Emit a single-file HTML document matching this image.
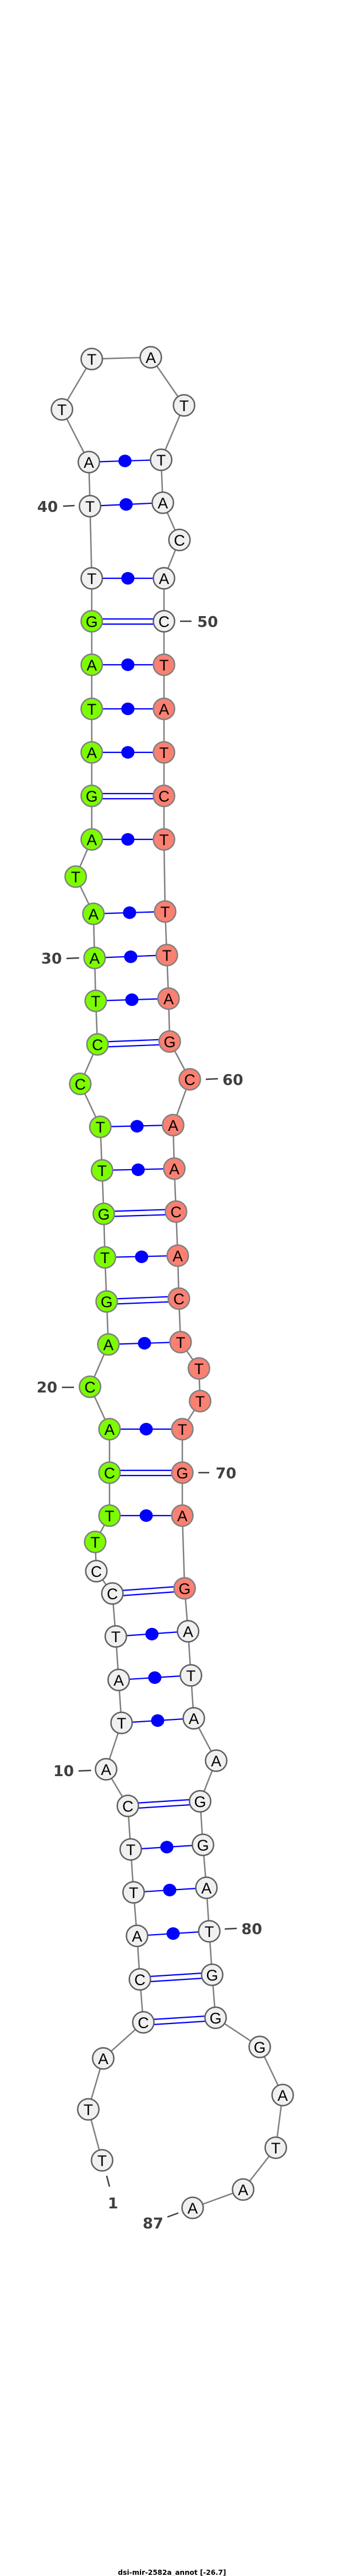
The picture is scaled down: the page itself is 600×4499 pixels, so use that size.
<!DOCTYPE html>
<html><head><meta charset="utf-8"><style>
html,body{margin:0;padding:0;background:#fff;}
svg{display:block;}
.n text{font-family:"Liberation Sans",sans-serif;font-size:27px;text-anchor:middle;fill:#000;}
.lb{font-family:"DejaVu Sans","Liberation Sans",sans-serif;font-weight:bold;font-size:26px;fill:#404040;}
</style></head><body>
<svg width="600" height="4499" viewBox="0 0 600 4499" xmlns="http://www.w3.org/2000/svg">
<rect width="600" height="4499" fill="#fff"/>
<polyline fill="none" stroke="#808080" stroke-width="2.5" points="178,3773 154,3684 180,3595 250,3532 244,3457 239,3381 233,3305 228,3230 223,3154 185,3090 212,3009 207,2934 202,2858 196,2783 168,2744 166,2693 191,2647 191,2572 191,2496 157,2422 189,2348 186,2273 183,2196 181,2120 178,2044 175,1968 140,1893 170,1824 167,1748 165,1673 163,1596 132,1531 160,1466 160,1390 160,1314 160,1238 160,1161 160,1085 160,1010 157,884 155,807 108,715 160,627 263,624 321,708 281,803 284,878 313,943 286,1010 286,1085 286,1161 286,1238 286,1314 286,1390 286,1466 288,1592 291,1668 294,1744 296,1819 331,1885 302,1965 304,2041 307,2116 310,2193 312,2268 315,2344 347,2390 349,2447 318,2496 318,2572 318,2647 322,2774 328,2849 333,2926 338,3001 377,3075 349,3146 354,3222 360,3297 365,3373 370,3449 376,3524 453,3575 493,3659 481,3751 424,3824 336,3856"/>
<g stroke="#0000ff" stroke-width="2.2" fill="none">
<!-- single pairs -->
<line x1="239" y1="3381" x2="365" y2="3373"/>
<line x1="233" y1="3305" x2="360" y2="3297"/>
<line x1="228" y1="3230" x2="354" y2="3222"/>
<line x1="212" y1="3009" x2="338" y2="3001"/>
<line x1="207" y1="2934" x2="333" y2="2926"/>
<line x1="202" y1="2858" x2="328" y2="2849"/>
<line x1="191" y1="2647" x2="318" y2="2647"/>
<line x1="191" y1="2496" x2="318" y2="2496"/>
<line x1="189" y1="2348" x2="315" y2="2344"/>
<line x1="183" y1="2196" x2="310" y2="2193"/>
<line x1="178" y1="2044" x2="304" y2="2041"/>
<line x1="175" y1="1968" x2="302" y2="1965"/>
<line x1="167" y1="1748" x2="294" y2="1744"/>
<line x1="165" y1="1673" x2="291" y2="1668"/>
<line x1="163" y1="1596" x2="288" y2="1592"/>
<line x1="160" y1="1466" x2="286" y2="1466"/>
<line x1="160" y1="1314" x2="286" y2="1314"/>
<line x1="160" y1="1238" x2="286" y2="1238"/>
<line x1="160" y1="1161" x2="286" y2="1161"/>
<line x1="160" y1="1010" x2="286" y2="1010"/>
<line x1="157" y1="884" x2="284" y2="878"/>
<line x1="155" y1="807" x2="281" y2="803"/>
<!-- double pairs -->
<line x1="250" y1="3528" x2="376" y2="3520"/><line x1="250" y1="3537" x2="376" y2="3529"/>
<line x1="244" y1="3453" x2="370" y2="3445"/><line x1="244" y1="3462" x2="370" y2="3454"/>
<line x1="223" y1="3150" x2="349" y2="3142"/><line x1="223" y1="3159" x2="349" y2="3151"/>
<line x1="196" y1="2779" x2="322" y2="2770"/><line x1="196" y1="2788" x2="322" y2="2779"/>
<line x1="191" y1="2568" x2="318" y2="2568"/><line x1="191" y1="2577" x2="318" y2="2577"/>
<line x1="186" y1="2269" x2="312" y2="2264"/><line x1="186" y1="2278" x2="312" y2="2273"/>
<line x1="181" y1="2116" x2="307" y2="2112"/><line x1="181" y1="2125" x2="307" y2="2121"/>
<line x1="170" y1="1820" x2="296" y2="1815"/><line x1="170" y1="1829" x2="296" y2="1824"/>
<line x1="160" y1="1386" x2="286" y2="1386"/><line x1="160" y1="1395" x2="286" y2="1395"/>
<line x1="160" y1="1081" x2="286" y2="1081"/><line x1="160" y1="1090" x2="286" y2="1090"/>
</g>
<g fill="#0000ff">
<ellipse cx="302" cy="3377" rx="11.5" ry="11"/>
<ellipse cx="296" cy="3301" rx="11.5" ry="11"/>
<ellipse cx="291" cy="3226" rx="11.5" ry="11"/>
<ellipse cx="275" cy="3005" rx="11.5" ry="11"/>
<ellipse cx="270" cy="2930" rx="11.5" ry="11"/>
<ellipse cx="265" cy="2854" rx="11.5" ry="11"/>
<ellipse cx="255" cy="2647" rx="11.5" ry="11"/>
<ellipse cx="255" cy="2496" rx="11.5" ry="11"/>
<ellipse cx="252" cy="2346" rx="11.5" ry="11"/>
<ellipse cx="247" cy="2195" rx="11.5" ry="11"/>
<ellipse cx="241" cy="2043" rx="11.5" ry="11"/>
<ellipse cx="239" cy="1967" rx="11.5" ry="11"/>
<ellipse cx="230" cy="1746" rx="11.5" ry="11"/>
<ellipse cx="228" cy="1671" rx="11.5" ry="11"/>
<ellipse cx="226" cy="1594" rx="11.5" ry="11"/>
<ellipse cx="223" cy="1466" rx="11.5" ry="11"/>
<ellipse cx="223" cy="1314" rx="11.5" ry="11"/>
<ellipse cx="223" cy="1238" rx="11.5" ry="11"/>
<ellipse cx="223" cy="1161" rx="11.5" ry="11"/>
<ellipse cx="223" cy="1010" rx="11.5" ry="11"/>
<ellipse cx="220" cy="881" rx="11.5" ry="11"/>
<ellipse cx="218" cy="805" rx="11.5" ry="11"/>
</g>
<!-- nodes -->
<g class="n" stroke-width="2.5">
<g stroke="#606060" fill="#f0f0f0">
<circle cx="178" cy="3773" r="18.5"/><circle cx="154" cy="3684" r="18.5"/><circle cx="180" cy="3595" r="18.5"/><circle cx="250" cy="3532" r="18.5"/><circle cx="244" cy="3457" r="18.5"/><circle cx="239" cy="3381" r="18.5"/><circle cx="233" cy="3305" r="18.5"/><circle cx="228" cy="3230" r="18.5"/><circle cx="223" cy="3154" r="18.5"/><circle cx="185" cy="3090" r="18.5"/><circle cx="212" cy="3009" r="18.5"/><circle cx="207" cy="2934" r="18.5"/><circle cx="202" cy="2858" r="18.5"/><circle cx="196" cy="2783" r="18.5"/><circle cx="168" cy="2744" r="18.5"/>
<circle cx="160" cy="1010" r="18.5"/><circle cx="157" cy="884" r="18.5"/><circle cx="155" cy="807" r="18.5"/><circle cx="108" cy="715" r="18.5"/><circle cx="160" cy="627" r="18.5"/><circle cx="263" cy="624" r="18.5"/><circle cx="321" cy="708" r="18.5"/><circle cx="281" cy="803" r="18.5"/><circle cx="284" cy="878" r="18.5"/><circle cx="313" cy="943" r="18.5"/><circle cx="286" cy="1010" r="18.5"/><circle cx="286" cy="1085" r="18.5"/>
<circle cx="328" cy="2849" r="18.5"/><circle cx="333" cy="2926" r="18.5"/><circle cx="338" cy="3001" r="18.5"/><circle cx="377" cy="3075" r="18.5"/><circle cx="349" cy="3146" r="18.5"/><circle cx="354" cy="3222" r="18.5"/><circle cx="360" cy="3297" r="18.5"/><circle cx="365" cy="3373" r="18.5"/><circle cx="370" cy="3449" r="18.5"/><circle cx="376" cy="3524" r="18.5"/><circle cx="453" cy="3575" r="18.5"/><circle cx="493" cy="3659" r="18.5"/><circle cx="481" cy="3751" r="18.5"/><circle cx="424" cy="3824" r="18.5"/><circle cx="336" cy="3856" r="18.5"/>
</g>
<g stroke="#808080" fill="#7cfc00">
<circle cx="166" cy="2693" r="18.5"/><circle cx="191" cy="2647" r="18.5"/><circle cx="191" cy="2572" r="18.5"/><circle cx="191" cy="2496" r="18.5"/><circle cx="157" cy="2422" r="18.5"/><circle cx="189" cy="2348" r="18.5"/><circle cx="186" cy="2273" r="18.5"/><circle cx="183" cy="2196" r="18.5"/><circle cx="181" cy="2120" r="18.5"/><circle cx="178" cy="2044" r="18.5"/><circle cx="175" cy="1968" r="18.5"/><circle cx="140" cy="1893" r="18.5"/><circle cx="170" cy="1824" r="18.5"/><circle cx="167" cy="1748" r="18.5"/><circle cx="165" cy="1673" r="18.5"/><circle cx="163" cy="1596" r="18.5"/><circle cx="132" cy="1531" r="18.5"/><circle cx="160" cy="1466" r="18.5"/><circle cx="160" cy="1390" r="18.5"/><circle cx="160" cy="1314" r="18.5"/><circle cx="160" cy="1238" r="18.5"/><circle cx="160" cy="1161" r="18.5"/><circle cx="160" cy="1085" r="18.5"/>
</g>
<g stroke="#808080" fill="#fa8072">
<circle cx="286" cy="1161" r="18.5"/><circle cx="286" cy="1238" r="18.5"/><circle cx="286" cy="1314" r="18.5"/><circle cx="286" cy="1390" r="18.5"/><circle cx="286" cy="1466" r="18.5"/><circle cx="288" cy="1592" r="18.5"/><circle cx="291" cy="1668" r="18.5"/><circle cx="294" cy="1744" r="18.5"/><circle cx="296" cy="1819" r="18.5"/><circle cx="331" cy="1885" r="18.5"/><circle cx="302" cy="1965" r="18.5"/><circle cx="304" cy="2041" r="18.5"/><circle cx="307" cy="2116" r="18.5"/><circle cx="310" cy="2193" r="18.5"/><circle cx="312" cy="2268" r="18.5"/><circle cx="315" cy="2344" r="18.5"/><circle cx="347" cy="2390" r="18.5"/><circle cx="349" cy="2447" r="18.5"/><circle cx="318" cy="2496" r="18.5"/><circle cx="318" cy="2572" r="18.5"/><circle cx="318" cy="2647" r="18.5"/><circle cx="322" cy="2774" r="18.5"/>
</g>
<g stroke="none">
<text x="178" y="3783">T</text><text x="154" y="3694">T</text><text x="180" y="3605">A</text><text x="250" y="3542">C</text><text x="244" y="3467">C</text><text x="239" y="3391">A</text><text x="233" y="3315">T</text><text x="228" y="3240">T</text><text x="223" y="3164">C</text><text x="185" y="3100">A</text>
<text x="212" y="3019">T</text><text x="207" y="2944">A</text><text x="202" y="2868">T</text><text x="196" y="2793">C</text><text x="168" y="2754">C</text><text x="166" y="2703">T</text><text x="191" y="2657">T</text><text x="191" y="2582">C</text><text x="191" y="2506">A</text><text x="157" y="2432">C</text>
<text x="189" y="2358">A</text><text x="186" y="2283">G</text><text x="183" y="2206">T</text><text x="181" y="2130">G</text><text x="178" y="2054">T</text><text x="175" y="1978">T</text><text x="140" y="1903">C</text><text x="170" y="1834">C</text><text x="167" y="1758">T</text><text x="165" y="1683">A</text>
<text x="163" y="1606">A</text><text x="132" y="1541">T</text><text x="160" y="1476">A</text><text x="160" y="1400">G</text><text x="160" y="1324">A</text><text x="160" y="1248">T</text><text x="160" y="1171">A</text><text x="160" y="1095">G</text><text x="160" y="1020">T</text><text x="157" y="894">T</text>
<text x="155" y="817">A</text><text x="108" y="725">T</text><text x="160" y="637">T</text><text x="263" y="634">A</text><text x="321" y="718">T</text><text x="281" y="813">T</text><text x="284" y="888">A</text><text x="313" y="953">C</text><text x="286" y="1020">A</text><text x="286" y="1095">C</text>
<text x="286" y="1171">T</text><text x="286" y="1248">A</text><text x="286" y="1324">T</text><text x="286" y="1400">C</text><text x="286" y="1476">T</text><text x="288" y="1602">T</text><text x="291" y="1678">T</text><text x="294" y="1754">A</text><text x="296" y="1829">G</text><text x="331" y="1895">C</text>
<text x="302" y="1975">A</text><text x="304" y="2051">A</text><text x="307" y="2126">C</text><text x="310" y="2203">A</text><text x="312" y="2278">C</text><text x="315" y="2354">T</text><text x="347" y="2400">T</text><text x="349" y="2457">T</text><text x="318" y="2506">T</text><text x="318" y="2582">G</text>
<text x="318" y="2657">A</text><text x="322" y="2784">G</text><text x="328" y="2859">A</text><text x="333" y="2936">T</text><text x="338" y="3011">A</text><text x="377" y="3085">A</text><text x="349" y="3156">G</text><text x="354" y="3232">G</text><text x="360" y="3307">A</text><text x="365" y="3383">T</text>
<text x="370" y="3459">G</text><text x="376" y="3534">G</text><text x="453" y="3585">G</text><text x="493" y="3669">A</text><text x="481" y="3761">T</text><text x="424" y="3834">A</text><text x="336" y="3866">A</text>
</g>
</g>
<!-- labels -->
<g stroke="#404040" stroke-width="2.5">
<line x1="110" y1="884" x2="130" y2="883"/>
<line x1="314" y1="1085" x2="334" y2="1085"/>
<line x1="116" y1="1674" x2="138" y2="1673"/>
<line x1="359" y1="1885" x2="380" y2="1884"/>
<line x1="108" y1="2423" x2="129" y2="2423"/>
<line x1="346" y1="2572" x2="365" y2="2572"/>
<line x1="137" y1="3093" x2="159" y2="3092"/>
<line x1="392" y1="3369" x2="413" y2="3368"/>
<line x1="186" y1="3800" x2="191" y2="3819"/>
<line x1="292" y1="3872" x2="311" y2="3865"/>
</g>
<text class="lb" x="101" y="894" text-anchor="end">40</text>
<text class="lb" x="344" y="1095">50</text>
<text class="lb" x="108" y="1683" text-anchor="end">30</text>
<text class="lb" x="388" y="1895">60</text>
<text class="lb" x="100" y="2432" text-anchor="end">20</text>
<text class="lb" x="376" y="2582">70</text>
<text class="lb" x="129" y="3102" text-anchor="end">10</text>
<text class="lb" x="421" y="3378">80</text>
<text class="lb" x="197" y="3857" text-anchor="middle">1</text>
<text class="lb" x="285" y="3892" text-anchor="end">87</text>
<text x="300" y="4497" text-anchor="middle" font-family="'DejaVu Sans','Liberation Sans',sans-serif" font-weight="bold" font-size="12" fill="#000">dsi-mir-2582a_annot [-26.7]</text>
</svg>
</body></html>
